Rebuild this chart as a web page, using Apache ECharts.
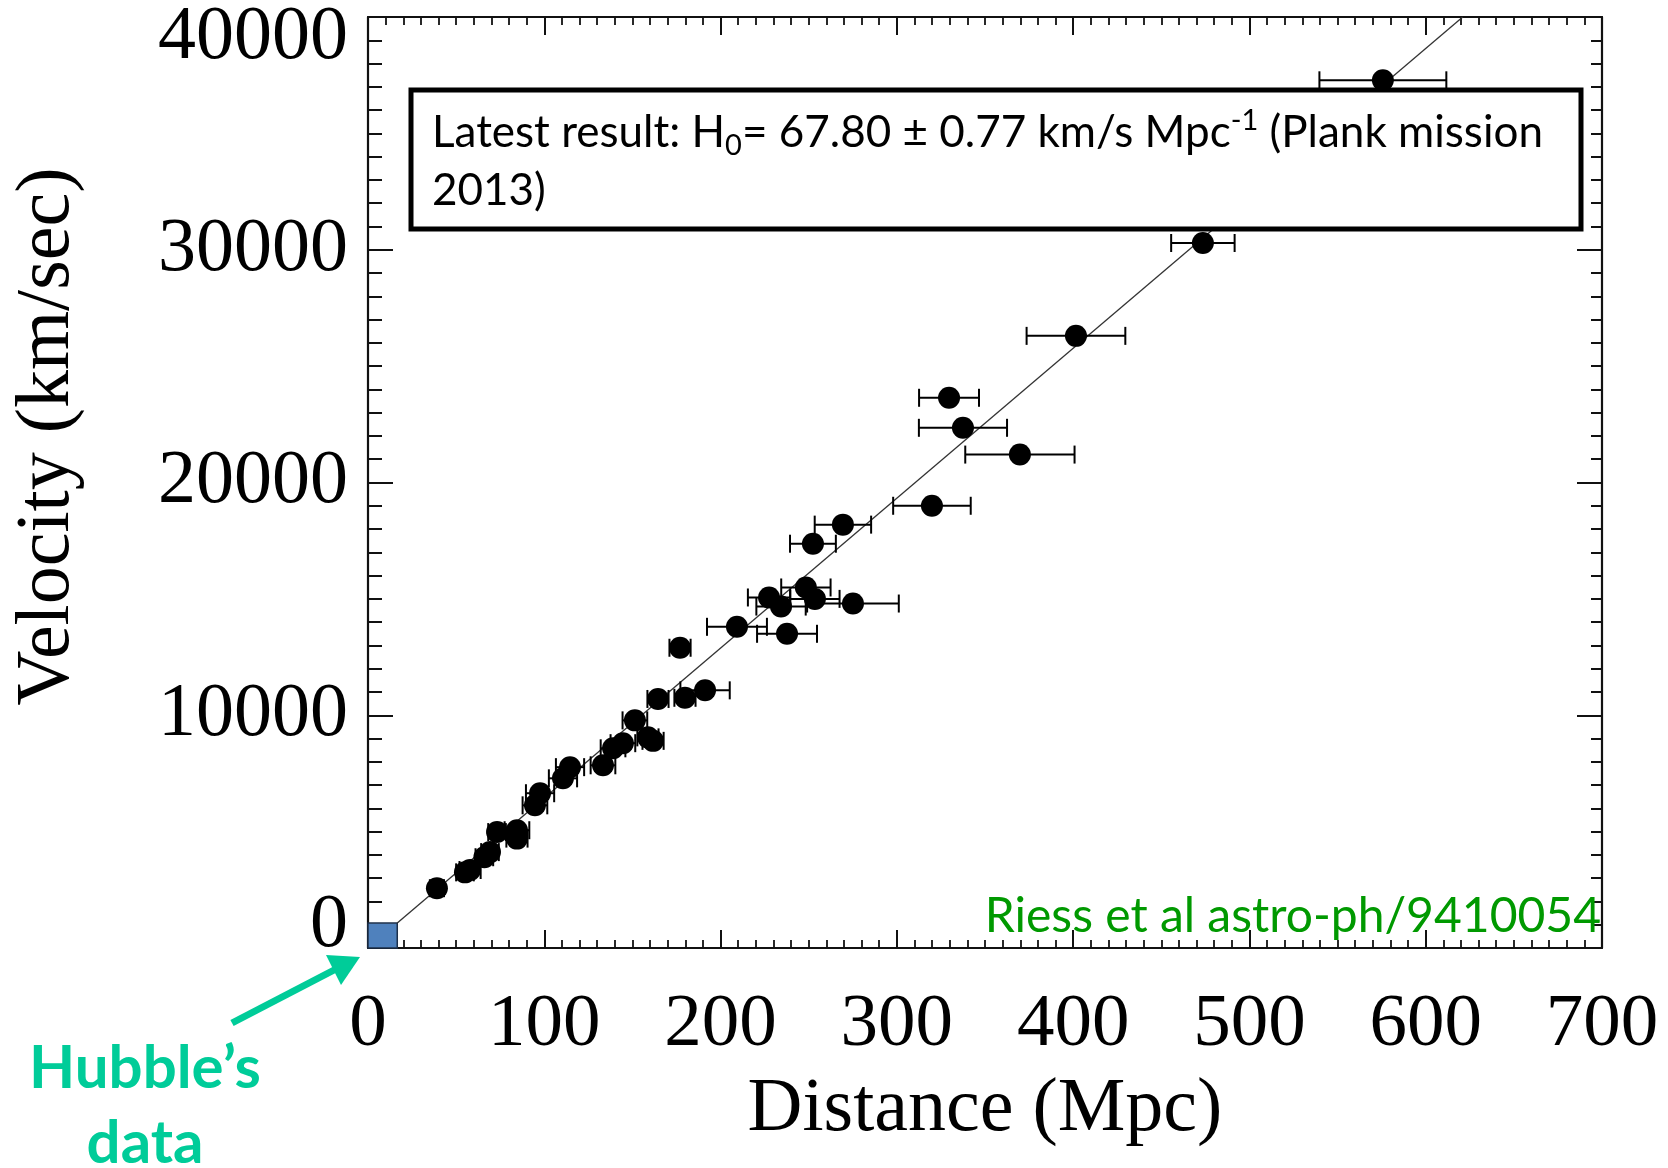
<!DOCTYPE html>
<html>
<head>
<meta charset="utf-8">
<script src="https://cdn.jsdelivr.net/npm/echarts@6/dist/echarts.min.js"></script>
<style>
  html, body { margin: 0; padding: 0; background: #fff; }
  #chart-container { width: 1668px; height: 1168px; }
</style>
</head>
<body>
<div id="chart-container"></div>
<script>
var dom = document.getElementById('chart-container');
var myChart = echarts.init(dom, null, { renderer: 'canvas' });

// supernova distances (Mpc), velocities (km/s) and distance errors (Mpc)
const distance = [575.7, 473.6, 401.6, 329.6, 337.5, 369.8, 319.9, 269.4, 252.4, 248.4,
                  227.5, 253.5, 234.3, 275.1, 209.3, 237.7, 177.0, 191.2, 179.8, 164.5,
                  151.4, 158.8, 161.7, 144.6, 139.0, 133.3, 114.6, 110.6, 97.6, 94.7,
                  84.5, 73.2, 84.5, 69.2, 66.0, 57.9, 55.0, 39.1];
const velocity = [37280, 30290, 26300, 23640, 22350, 21200, 19000, 18190, 17370, 15490,
                  15060, 15000, 14670, 14800, 13800, 13500, 12900, 11070, 10750, 10700,
                  9780, 9050, 8900, 8800, 8580, 7850, 7770, 7290, 6650, 6130,
                  5060, 4980, 4700, 4120, 3900, 3350, 3250, 2570];
const distErr = [36, 18, 28, 17, 25, 31, 22, 16, 13, 14,
                 12, 14, 14, 26, 17, 17, 6, 14, 6, 6,
                 7, 6, 6, 7, 7, 7, 8, 8, 8, 7,
                 7, 5, 6, 5, 5, 6, 5, 4];

// fitted line end points
const fitDist = [16.6, 621];
const fitVel = [1070, 40000];
// region covered by Hubble's original data
const hubbleBox = [16.6, 1070];

const pts = distance.map(function (d, i) { return [d, velocity[i]]; });
const errPts = distance.map(function (d, i) { return [d, velocity[i], distErr[i]]; });
const fitPts = fitDist.map(function (d, i) { return [d, fitVel[i]]; });

const serif = '"Liberation Serif", "DejaVu Serif", serif';
const sans = 'Lato, "Open Sans", sans-serif';
const axisCol = '#111';

function renderErr(params, api) {
  var x = api.value(0), y = api.value(1), e = api.value(2);
  var lo = api.coord([x - e, y]);
  var hi = api.coord([x + e, y]);
  var cap = 9;
  var st = { stroke: '#000', lineWidth: 2 };
  return {
    type: 'group',
    children: [
      { type: 'line', shape: { x1: lo[0], y1: lo[1], x2: hi[0], y2: hi[1] }, style: st },
      { type: 'line', shape: { x1: lo[0], y1: lo[1] - cap, x2: lo[0], y2: lo[1] + cap }, style: st },
      { type: 'line', shape: { x1: hi[0], y1: hi[1] - cap, x2: hi[0], y2: hi[1] + cap }, style: st }
    ]
  };
}

function yLabel(v) {
  if (v === 0) return '{lo|0}';
  if (v === 40000) return '{hi|40000}';
  return String(v);
}

var option = {
  backgroundColor: '#fff',
  animation: false,
  grid: { left: 368, right: 66, top: 16, bottom: 220 },
  xAxis: [{
    type: 'value', position: 'bottom', min: 0, max: 700, interval: 100,
    name: 'Distance (Mpc)', nameLocation: 'middle', nameGap: 124,
    nameTextStyle: { fontFamily: serif, fontSize: 76, color: '#000' },
    axisLine: { onZero: false, lineStyle: { color: axisCol, width: 2.2 } },
    axisTick: { inside: true, length: 18, lineStyle: { color: axisCol, width: 2 } },
    minorTick: { show: true, splitNumber: 10, length: 8, lineStyle: { color: axisCol, width: 1.8 } },
    axisLabel: { fontFamily: serif, fontSize: 75, color: '#000', margin: 40 },
    splitLine: { show: false }
  }, {
    type: 'value', position: 'top', min: 0, max: 700, interval: 100,
    axisLine: { onZero: false, lineStyle: { color: axisCol, width: 2.2 } },
    axisTick: { inside: true, length: 18, lineStyle: { color: axisCol, width: 2 } },
    minorTick: { show: true, splitNumber: 10, length: 8, lineStyle: { color: axisCol, width: 1.8 } },
    axisLabel: { show: false },
    splitLine: { show: false }
  }],
  yAxis: [{
    type: 'value', position: 'left', min: 0, max: 40000, interval: 10000,
    name: 'Velocity (km/sec)', nameLocation: 'middle', nameGap: 282,
    nameTextStyle: { fontFamily: serif, fontSize: 76, color: '#000', padding: [0, 0, 0, 92] },
    axisLine: { onZero: false, lineStyle: { color: axisCol, width: 2.2 } },
    axisTick: { inside: true, length: 25, lineStyle: { color: axisCol, width: 2 } },
    minorTick: { show: true, splitNumber: 10, length: 14, lineStyle: { color: axisCol, width: 2 } },
    axisLabel: {
      fontFamily: serif, fontSize: 76, color: '#000', margin: 20,
      verticalAlignMinLabel: 'bottom', verticalAlignMaxLabel: 'top',
      formatter: yLabel,
      rich: {
        lo: { fontFamily: serif, fontSize: 76, color: '#000', lineHeight: 44 },
        hi: { fontFamily: serif, fontSize: 76, color: '#000', lineHeight: 42 }
      }
    },
    splitLine: { show: false }
  }, {
    type: 'value', position: 'right', min: 0, max: 40000, interval: 10000,
    axisLine: { onZero: false, lineStyle: { color: axisCol, width: 2.2 } },
    axisTick: { inside: true, length: 25, lineStyle: { color: axisCol, width: 2 } },
    minorTick: { show: true, splitNumber: 10, length: 11, lineStyle: { color: axisCol, width: 2 } },
    axisLabel: { show: false },
    splitLine: { show: false }
  }],
  series: [{
    name: 'fit', type: 'line', data: fitPts, showSymbol: false, z: 2,
    lineStyle: { color: '#333', width: 1.3 },
    markArea: {
      silent: true,
      itemStyle: { color: '#4f81bd', borderColor: '#1c2f4a', borderWidth: 1.5 },
      data: [[{ coord: [0, 0] }, { coord: hubbleBox }]]
    }
  }, {
    name: 'errors', type: 'custom', renderItem: renderErr, data: errPts, z: 3
  }, {
    name: 'supernovae', type: 'scatter', data: pts, symbolSize: 22, z: 4,
    itemStyle: { color: '#000', opacity: 1 }
  }],
  graphic: [
    { type: 'rect', z: 100, shape: { x: 411, y: 90, width: 1170, height: 139 },
      style: { fill: '#fff', stroke: '#000', lineWidth: 5 } },
    { type: 'text', z: 101, x: 432, y: 133,
      style: {
        text: '{t|Latest result: H}{sub|0}{t|= 67.80 ± 0.77 km/s Mpc}{sup|-1}{t| (Plank mission}',
        verticalAlign: 'middle',
        rich: {
          t: { fontFamily: sans, fontSize: 44, lineHeight: 54, fill: '#000' },
          sub: { fontFamily: sans, fontSize: 29, lineHeight: 29, verticalAlign: 'bottom', fill: '#000' },
          sup: { fontFamily: sans, fontSize: 29, lineHeight: 29, verticalAlign: 'top', fill: '#000' }
        }
      } },
    { type: 'text', z: 101, x: 432, y: 191,
      style: { text: '2013)', fontFamily: sans, fontSize: 44, fill: '#000', verticalAlign: 'middle' } },
    { type: 'text', z: 101, x: 1601, y: 917,
      style: { text: 'Riess et al astro-ph/9410054', fontFamily: sans, fontSize: 48,
               fill: '#009900', align: 'right', verticalAlign: 'middle' } },
    { type: 'text', x: 145, y: 1069,
      style: { text: 'Hubble\u2019s', fontFamily: sans, fontWeight: 'bold', fontSize: 60,
               fill: '#00CC99', align: 'center', verticalAlign: 'middle' } },
    { type: 'text', x: 145, y: 1144,
      style: { text: 'data', fontFamily: sans, fontWeight: 'bold', fontSize: 60,
               fill: '#00CC99', align: 'center', verticalAlign: 'middle' } },
    { type: 'line', shape: { x1: 232, y1: 1023, x2: 336, y2: 969 },
      style: { stroke: '#00CC99', lineWidth: 7 } },
    { type: 'polygon', shape: { points: [[360, 957], [341, 985], [326, 955]] },
      style: { fill: '#00CC99' } }
  ]
};

myChart.setOption(option);
window.addEventListener('resize', myChart.resize);
</script>
</body>
</html>
